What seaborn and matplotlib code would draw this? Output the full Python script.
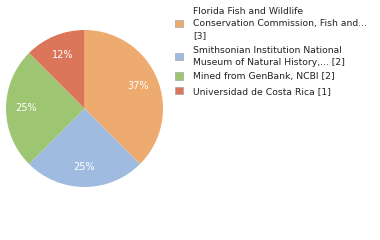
import matplotlib
matplotlib.use("Agg")
import matplotlib.pyplot as plt
import seaborn as sns
from matplotlib.patches import Patch

sns.set_style("white")
plt.rcParams['font.family'] = ['DejaVu Sans']

labels = ["Florida Fish and Wildlife\nConservation Commission, Fish and...\n[3]",
          "Smithsonian Institution National\nMuseum of Natural History,... [2]",
          "Mined from GenBank, NCBI [2]",
          "Universidad de Costa Rica [1]"]
values = [3, 2, 2, 1]
colors = ["#EEAB6F", "#9FBCE0", "#9EC572", "#DC765A"]

fig = plt.figure(figsize=(3.8, 2.4), dpi=100)
ax = fig.add_axes([6/380, 1 - 187/240, 157/380, 157/240])

def fmt(p):
    return f"{int(p)}%"

wedges, texts, autotexts = ax.pie(values, colors=colors, startangle=90, counterclock=False,
                                  autopct=fmt, pctdistance=0.74,
                                  wedgeprops=dict(linewidth=0),
                                  textprops=dict(color="white", fontsize=7))
ax.set_xlim(-1, 1)
ax.set_ylim(-1, 1)
ax.set_aspect("equal")

handles = [Patch(facecolor=c, edgecolor="#999999", linewidth=0.4) for c in colors]
leg = fig.legend(handles, labels, loc="upper left", bbox_to_anchor=(171/380, 1 - 3/240),
                 frameon=False, fontsize=6.65, handlelength=0.9, handleheight=0.9,
                 handletextpad=1.1, labelspacing=0.6, borderaxespad=0)
for t in leg.get_texts():
    t.set_color("#222222")
    t.set_linespacing(1.45)

fig.savefig("out.png", dpi=100)
